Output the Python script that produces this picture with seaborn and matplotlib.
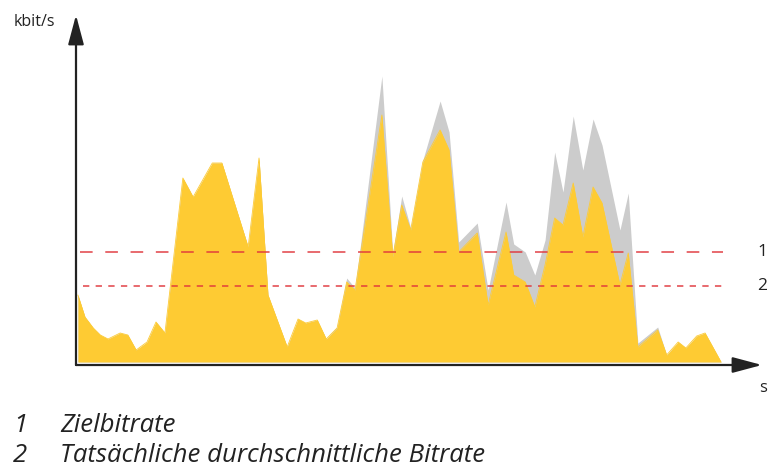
import numpy as np
import pandas as pd
import matplotlib
matplotlib.use("Agg")
import matplotlib.pyplot as plt
import seaborn as sns

# -----------------------------
# Data (seconds / kbit/s)
# -----------------------------
time_s = [0.3, 1.4, 2.7, 3.8, 5.0, 6.9, 8.1, 9.4, 11.1, 12.5, 13.9, 16.7, 18.3,
          21.3, 22.8, 26.9, 28.6, 30.0, 33.0, 34.7, 35.9, 37.7, 39.1, 40.8,
          42.3, 43.6, 47.8, 49.5, 50.9, 52.3, 54.2, 56.9, 58.3, 59.8, 62.7,
          64.4, 67.2, 68.4, 70.2, 71.7, 73.3, 74.8, 76.1, 77.7, 79.2, 80.8,
          82.2, 85.0, 86.3, 87.8, 90.9, 92.3, 94.1, 95.3, 97.0, 98.3, 100.8]

# actual bitrate (yellow)
actual = [670, 450, 340, 270, 230, 290, 270, 120, 200, 400, 290, 1840, 1650,
          1990, 1990, 1150, 2040, 670, 150, 430, 390, 420, 230, 340,
          800, 720, 2470, 1050, 1570, 1320, 2000, 2320, 2120, 1100, 1290,
          570, 1300, 870, 800, 550, 970, 1440, 1370, 1790, 1250, 1750,
          1590, 770, 1090, 150, 320, 70, 200, 140, 260, 290, 0]

# bitrate without limit (grey)
unlimited = [670, 450, 340, 270, 230, 290, 270, 120, 200, 400, 290, 1840, 1650,
             1990, 1990, 1150, 2040, 670, 150, 430, 390, 420, 230, 350,
             840, 740, 2860, 1090, 1660, 1340, 2020, 2610, 2300, 1200, 1390,
             720, 1600, 1180, 1100, 870, 1220, 2100, 1700, 2460, 1920, 2430,
             2170, 1320, 1690, 190, 350, 70, 200, 140, 260, 290, 0]

target_rate = 1100
average_rate = 760

legend_labels = ["Zielbitrate", "Tatsächliche durchschnittliche Bitrate"]

df = pd.DataFrame({"time": time_s, "actual": actual, "unlimited": unlimited})

# -----------------------------
# Plot
# -----------------------------
sns.set_theme(style="white")
plt.rcParams["font.family"] = ["Open Sans", "DejaVu Sans"]

fig = plt.figure(figsize=(7.71, 4.68), dpi=100)
ax = fig.add_axes([76 / 771, 103 / 468, 686 / 771, 350 / 468])

yellow = "#fecb33"
grey = "#cccccc"
red = "#e0363c"

ax.fill_between(df["time"], 0, df["unlimited"], color=grey, lw=0)
ax.fill_between(df["time"], 0, df["actual"], color=yellow, lw=0)
sns.lineplot(data=df, x="time", y="actual", color=yellow, lw=0.6, ax=ax)

ax.hlines(target_rate, 0.6, 101.1, colors=red, lw=1.3, alpha=0.8,
          linestyles=(0, (7, 7)))
ax.hlines(average_rate, 1.1, 101.7, colors=red, lw=1.3, alpha=0.8,
          linestyles=(0, (3.5, 3.5)))

ax.set_xlim(0, 107.2)
ax.set_ylim(-30, 3470)
ax.set_xticks([])
ax.set_yticks([])
ax.set_xlabel("")
ax.set_ylabel("")
for sp in ax.spines.values():
    sp.set_visible(False)

# axes with arrow heads
arrow = dict(arrowstyle="-|>,head_length=0.9,head_width=0.24", color="#222222",
             lw=1.6, mutation_scale=20, shrinkA=0, shrinkB=0)
ax.annotate("", xy=(1, 0), xytext=(0, 0), xycoords="axes fraction", arrowprops=arrow)
ax.annotate("", xy=(0, 1), xytext=(0, 0), xycoords="axes fraction", arrowprops=arrow)

# labels
fig.text(34 / 771, 1 - 22 / 468, "kbit/s", fontsize=11.5, color="#222222",
         ha="center", va="center")
fig.text(763 / 771, 1 - 388 / 468, "s", fontsize=12, color="#222222",
         ha="center", va="center")
ax.text(1.0, target_rate, "1", transform=ax.get_yaxis_transform(),
        fontsize=12.5, color="#222222", ha="center", va="center")
ax.text(1.0, average_rate, "2", transform=ax.get_yaxis_transform(),
        fontsize=12.5, color="#222222", ha="center", va="center")

# legend text below the chart
for i, (lab, yb) in enumerate(zip(legend_labels, [432, 462])):
    fig.text(13 / 771, 1 - yb / 468, str(i + 1), fontsize=18.5, style="italic",
             color="#222222", ha="left", va="baseline")
    fig.text(60 / 771, 1 - yb / 468, lab, fontsize=18.5, style="italic",
             color="#222222", ha="left", va="baseline")

plt.savefig("out.png", dpi=100)
